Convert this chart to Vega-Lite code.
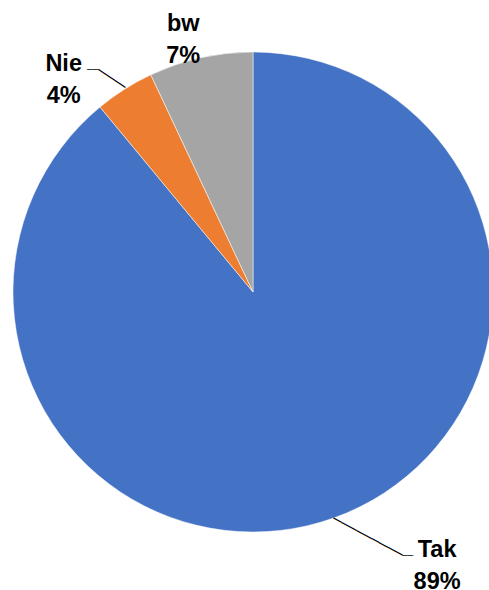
{
  "$schema": "https://vega.github.io/schema/vega-lite/v6.json",
  "width": 472,
  "height": 584,
  "autosize": "none",
  "padding": {"left": 17, "top": 0, "right": 0, "bottom": 6},
  "background": "white",
  "view": {"stroke": null},
  "data": {
    "values": [
      {"cat": "Tak", "value": 89, "order": 1, "label": "Tak\n89%"},
      {"cat": "Nie", "value": 4, "order": 2, "label": "Nie\n4%"},
      {"cat": "bw", "value": 7, "order": 3, "label": "bw\n7%"}
    ]
  },
  "encoding": {
    "theta": {"field": "value", "type": "quantitative", "stack": true},
    "order": {"field": "order", "type": "quantitative", "sort": "ascending"}
  },
  "layer": [
    {
      "mark": {"type": "arc", "radius": 240, "stroke": "white", "strokeWidth": 0.5},
      "encoding": {
        "color": {
          "field": "cat",
          "type": "nominal",
          "scale": {"domain": ["Tak", "Nie", "bw"], "range": ["#4472C4", "#ED7D31", "#A5A5A5"]},
          "legend": null
        }
      }
    },
    {
      "mark": {"type": "text", "radius": 260, "dx": 96, "dy": 20, "align": "center", "baseline": "alphabetic", "font": "Liberation Sans", "fontWeight": "bold", "fontSize": 23.5, "lineHeight": 32, "lineBreak": "\n", "color": "#000"},
      "encoding": {"text": {"condition": {"test": "datum.cat === 'Tak'", "field": "label"}, "value": ""}}
    },
    {
      "mark": {"type": "text", "radius": 260, "dx": -50, "dy": -1.5, "align": "center", "baseline": "alphabetic", "font": "Liberation Sans", "fontWeight": "bold", "fontSize": 23.5, "lineHeight": 32, "lineBreak": "\n", "color": "#000"},
      "encoding": {"text": {"condition": {"test": "datum.cat === 'Nie'", "field": "label"}, "value": ""}}
    },
    {
      "mark": {"type": "text", "radius": 260, "dx": -13, "dy": -7, "align": "center", "baseline": "alphabetic", "font": "Liberation Sans", "fontWeight": "bold", "fontSize": 23.5, "lineHeight": 32, "lineBreak": "\n", "color": "#000"},
      "encoding": {"text": {"condition": {"test": "datum.cat === 'bw'", "field": "label"}, "value": ""}}
    },
    {
      "mark": {"type": "text", "radius": 270.9, "thetaOffset": -0.0908, "angle": 28.2, "align": "center", "baseline": "middle", "font": "DejaVu Sans", "fontSize": 14.4, "color": "#000"},
      "encoding": {"text": {"condition": {"test": "datum.cat === 'Tak'", "value": "─────────"}, "value": ""}}
    },
    {
      "mark": {"type": "text", "radius": 305.9, "thetaOffset": -0.1838, "align": "center", "baseline": "middle", "font": "DejaVu Sans", "fontSize": 9.1, "color": "#000"},
      "encoding": {"text": {"condition": {"test": "datum.cat === 'Tak'", "value": "──"}, "value": ""}}
    },
    {
      "mark": {"type": "text", "radius": 255.7, "thetaOffset": -0.0209, "angle": 33.7, "align": "center", "baseline": "middle", "font": "DejaVu Sans", "fontSize": 13.45, "color": "#000"},
      "encoding": {"text": {"condition": {"test": "datum.cat === 'Nie'", "value": "────"}, "value": ""}}
    },
    {
      "mark": {"type": "text", "radius": 273.9, "thetaOffset": -0.0606, "align": "center", "baseline": "middle", "font": "DejaVu Sans", "fontSize": 9.1, "color": "#000"},
      "encoding": {"text": {"condition": {"test": "datum.cat === 'Nie'", "value": "──"}, "value": ""}}
    }
  ]
}
